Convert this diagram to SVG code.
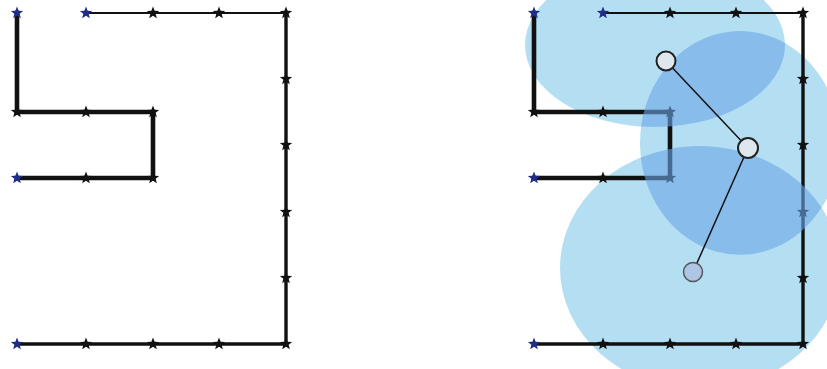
<svg xmlns="http://www.w3.org/2000/svg" width="827" height="369" viewBox="0 0 827 369">
<style>
.thick{fill:none;stroke:#111;stroke-width:4.6;stroke-linejoin:miter;stroke-linecap:square}
.thin{fill:none;stroke:#111;stroke-width:2}
.mid{fill:none;stroke:#111;stroke-width:3.4;stroke-linecap:square}
.bs{fill:#1f2d86}
.ks{fill:#111}
.light{fill:#b4dff3}
.dark{fill:#6ba7e6;fill-opacity:0.6}
.edge{stroke:#111;stroke-width:1.5;fill:none}
.node{fill:#dfe7ee;stroke:#222;stroke-width:2}
</style>
<defs>
<path id="star" d="M0,-6.5 L1.646,-2.265 L6.182,-2.009 L2.663,0.865 L3.821,5.259 L0,2.8 L-3.821,5.259 L-2.663,0.865 L-6.182,-2.009 L-1.646,-2.265 Z"/>
<g id="plan">
<path class="thick" d="M17,13 V112 H153 V178 H17"/>
<path class="thin" d="M86,13 H286"/>
<path class="mid" d="M286,13 V344"/>
<path class="mid" d="M17,344 H286"/>
<use href="#star" class="bs" x="17" y="13"/>
<use href="#star" class="bs" x="86" y="13"/>
<use href="#star" class="ks" x="153" y="13"/>
<use href="#star" class="ks" x="219" y="13"/>
<use href="#star" class="ks" x="286" y="13"/>
<use href="#star" class="ks" x="286" y="79"/>
<use href="#star" class="ks" x="286" y="145"/>
<use href="#star" class="ks" x="286" y="212"/>
<use href="#star" class="ks" x="286" y="278"/>
<use href="#star" class="ks" x="286" y="344"/>
<use href="#star" class="ks" x="17" y="112"/>
<use href="#star" class="ks" x="86" y="112"/>
<use href="#star" class="ks" x="153" y="112"/>
<use href="#star" class="bs" x="17" y="178"/>
<use href="#star" class="ks" x="86" y="178"/>
<use href="#star" class="ks" x="153" y="178"/>
<use href="#star" class="bs" x="17" y="344"/>
<use href="#star" class="ks" x="86" y="344"/>
<use href="#star" class="ks" x="153" y="344"/>
<use href="#star" class="ks" x="219" y="344"/>
</g>
</defs>
<rect width="827" height="369" fill="#fff"/>
<g id="left-plan"><use href="#plan"/></g>
<g id="coverage-light">
<ellipse class="light" cx="655" cy="45" rx="130" ry="82"/>
<ellipse class="light" cx="740" cy="143" rx="100" ry="112"/>
<ellipse class="light" cx="700" cy="268" rx="140" ry="122"/>
</g>
<g id="right-plan"><use href="#plan" x="517"/></g>
<g id="coverage-overlap">
<path class="dark" d="M641.1,126.5 A100,112 0 0 1 785,43 A130,82 0 0 1 641.1,126.5 Z"/>
<path class="dark" d="M640.8,157.5 A140,122 0 0 1 821.5,207.6 A100,112 0 0 1 640.8,157.5 Z"/>
</g>
<g id="connectors">
<line class="edge" x1="666" y1="61" x2="748" y2="148"/>
<line class="edge" x1="748" y1="148" x2="693" y2="272"/>
</g>
<g id="node1"><circle class="node" cx="666" cy="61" r="9.5"/></g>
<g id="node2"><circle class="node" cx="748" cy="148" r="10"/></g>
<g id="node3"><circle cx="693" cy="272" r="9.5" fill="#adc6e6" stroke="#555" stroke-width="1.5"/></g>
</svg>
